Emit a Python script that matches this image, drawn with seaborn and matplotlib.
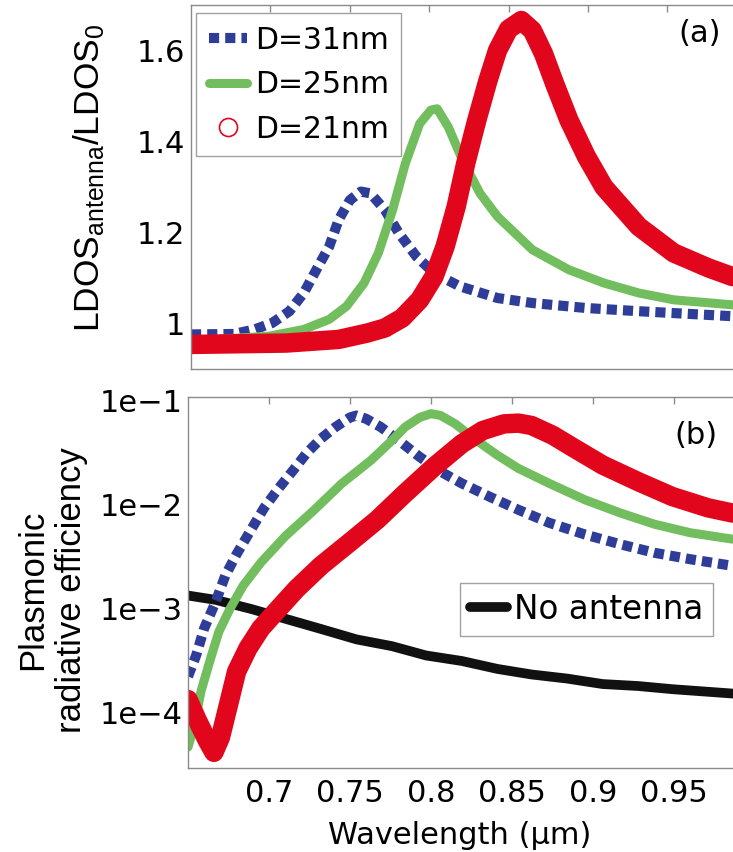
import numpy as np
import pandas as pd
import matplotlib
matplotlib.use("Agg")
import matplotlib.pyplot as plt
import seaborn as sns
from matplotlib.lines import Line2D
from matplotlib.ticker import FixedLocator, LogLocator, NullFormatter

# ---------------- data ----------------
# panel (a): LDOS_antenna / LDOS_0
wl_a31 = [0.65, 0.677, 0.69, 0.701, 0.712, 0.721, 0.73, 0.737, 0.743, 0.75, 0.757, 0.763, 0.772, 0.781, 0.792, 0.803, 0.819, 0.843, 0.865, 0.899, 0.932, 0.991]
ldos_31 = [0.976, 0.977, 0.987, 1.001, 1.027, 1.067, 1.125, 1.169, 1.228, 1.271, 1.29, 1.286, 1.25, 1.198, 1.147, 1.111, 1.082, 1.056, 1.045, 1.034, 1.027, 1.016]

wl_a25 = [0.65, 0.699, 0.721, 0.737, 0.748, 0.759, 0.768, 0.777, 0.785, 0.794, 0.801, 0.805, 0.812, 0.821, 0.832, 0.843, 0.865, 0.888, 0.91, 0.932, 0.954, 0.991]
ldos_25 = [0.962, 0.972, 0.987, 1.009, 1.038, 1.089, 1.155, 1.25, 1.352, 1.439, 1.469, 1.472, 1.432, 1.359, 1.286, 1.235, 1.162, 1.118, 1.089, 1.067, 1.052, 1.041]

wl_a21 = [0.65, 0.71, 0.743, 0.761, 0.772, 0.783, 0.794, 0.803, 0.81, 0.817, 0.823, 0.83, 0.837, 0.843, 0.85, 0.858, 0.865, 0.872, 0.879, 0.888, 0.899, 0.91, 0.932, 0.954, 0.976, 0.991]
ldos_21 = [0.954, 0.957, 0.965, 0.979, 0.99, 1.012, 1.052, 1.103, 1.169, 1.257, 1.352, 1.447, 1.534, 1.6, 1.647, 1.666, 1.644, 1.593, 1.527, 1.447, 1.367, 1.30, 1.213, 1.155, 1.122, 1.103]

# panel (b): plasmonic radiative efficiency
wl_b31 = [0.650, 0.655, 0.660, 0.667, 0.673, 0.680, 0.689, 0.697, 0.706, 0.715, 0.723, 0.732, 0.741, 0.750, 0.754, 0.760, 0.769, 0.780, 0.793, 0.806, 0.819, 0.836, 0.854, 0.873, 0.895, 0.917, 0.938, 0.960, 0.986]
eff_31 = [2.2e-4, 3.5e-4, 6.4e-4, 1.14e-3, 2.05e-3, 3.3e-3, 5.7e-3, 9.2e-3, 1.42e-2, 2.12e-2, 3.06e-2, 4.25e-2, 5.5e-2, 6.8e-2, 7.1e-2, 6.6e-2, 5.5e-2, 4.1e-2, 2.84e-2, 2.05e-2, 1.58e-2, 1.18e-2, 8.8e-3, 6.6e-3, 5.1e-3, 4.1e-3, 3.4e-3, 2.95e-3, 2.55e-3]

wl_b25 = [0.650, 0.654, 0.658, 0.664, 0.669, 0.676, 0.684, 0.695, 0.710, 0.728, 0.745, 0.763, 0.776, 0.784, 0.793, 0.800, 0.806, 0.815, 0.828, 0.841, 0.854, 0.873, 0.895, 0.917, 0.938, 0.960, 0.986]
eff_25 = [4.6e-5, 7.6e-5, 1.58e-4, 3.3e-4, 5.9e-4, 9.9e-4, 1.64e-3, 2.74e-3, 4.9e-3, 8.8e-3, 1.58e-2, 2.64e-2, 4.1e-2, 5.5e-2, 6.8e-2, 7.4e-2, 7.1e-2, 5.9e-2, 4.1e-2, 2.95e-2, 2.2e-2, 1.58e-2, 1.1e-2, 8.2e-3, 6.4e-3, 5.3e-3, 4.6e-3]

wl_b21 = [0.650, 0.656, 0.662, 0.666, 0.670, 0.675, 0.680, 0.687, 0.695, 0.706, 0.717, 0.732, 0.750, 0.767, 0.784, 0.802, 0.819, 0.832, 0.845, 0.854, 0.862, 0.875, 0.889, 0.906, 0.928, 0.949, 0.971, 0.986]
eff_21 = [1.32e-4, 8.2e-5, 5.3e-5, 4.1e-5, 5.7e-5, 1.18e-4, 2.45e-4, 4.1e-4, 6.4e-4, 9.9e-4, 1.53e-3, 2.55e-3, 4.3e-3, 7.1e-3, 1.27e-2, 2.29e-2, 3.8e-2, 5.1e-2, 5.9e-2, 6.0e-2, 5.7e-2, 4.6e-2, 3.4e-2, 2.37e-2, 1.64e-2, 1.18e-2, 9.2e-3, 8.2e-3]

wl_b0 = [0.65, 0.667, 0.689, 0.710, 0.732, 0.754, 0.776, 0.797, 0.819, 0.841, 0.862, 0.884, 0.906, 0.928, 0.949, 0.988]
eff_0 = [1.32e-3, 1.2e-3, 9.8e-4, 7.9e-4, 6.3e-4, 5.0e-4, 4.3e-4, 3.5e-4, 3.1e-4, 2.6e-4, 2.3e-4, 2.1e-4, 1.86e-4, 1.78e-4, 1.66e-4, 1.5e-4]

labels = ["D=31nm", "D=25nm", "D=21nm"]
label_none = "No antenna"
ytick_a = [1.0, 1.2, 1.4, 1.6]
ytick_a_labels = ["1", "1.2", "1.4", "1.6"]
ytick_b = [1e-4, 1e-3, 1e-2, 1e-1]
ytick_b_labels = ["1e\u22124", "1e\u22123", "1e\u22122", "1e\u22121"]
xticks = [0.7, 0.75, 0.8, 0.85, 0.9, 0.95]
xtick_labels = ["0.7", "0.75", "0.8", "0.85", "0.9", "0.95"]

# ---------------- style ----------------
sns.set_theme(style="white")
plt.rcParams["font.family"] = ["DejaVu Sans"]
plt.rcParams["text.color"] = "black"
plt.rcParams["axes.labelcolor"] = "black"
plt.rcParams["legend.labelcolor"] = "black"
plt.rcParams["mathtext.fontset"] = "custom"
plt.rcParams["mathtext.rm"] = "Liberation Sans"
plt.rcParams["mathtext.it"] = "Liberation Sans"

BLUE = "#2E3D98"
GREEN = "#72BE5E"
RED = "#E2061C"
BLACK = "#111111"
SPINE = "#8a8a8a"

W, H = 733, 852
fig = plt.figure(figsize=(W / 100, H / 100), dpi=100)
fig.patch.set_facecolor("white")


def rect(l, t, r, b):
    return [l / W, 1 - b / H, (r - l) / W, (b - t) / H]


ax_a = fig.add_axes(rect(191, 5, 736, 369))
ax_b = fig.add_axes(rect(188, 397, 736, 768))

dot_ls = (0, (1.0, 0.6))
LW_DOT = 7.3
LW_GREEN = 6.5
LW_RED = 14.0
LW_BLACK = 7.0

# panel (a)
sns.lineplot(x=wl_a31, y=ldos_31, ax=ax_a, color=BLUE, lw=LW_DOT, linestyle=dot_ls,
             estimator=None, dash_capstyle="butt")
sns.lineplot(x=wl_a25, y=ldos_25, ax=ax_a, color=GREEN, lw=LW_GREEN, estimator=None,
             solid_joinstyle="round")
sns.lineplot(x=wl_a21, y=ldos_21, ax=ax_a, color=RED, lw=LW_RED, estimator=None,
             solid_capstyle="round", solid_joinstyle="round")

# panel (b)
sns.lineplot(x=wl_b0, y=eff_0, ax=ax_b, color=BLACK, lw=LW_BLACK, estimator=None)
sns.lineplot(x=wl_b31, y=eff_31, ax=ax_b, color=BLUE, lw=LW_DOT, linestyle=dot_ls,
             estimator=None, dash_capstyle="butt")
sns.lineplot(x=wl_b25, y=eff_25, ax=ax_b, color=GREEN, lw=LW_GREEN, estimator=None,
             solid_joinstyle="round")
sns.lineplot(x=wl_b21, y=eff_21, ax=ax_b, color=RED, lw=LW_RED, estimator=None,
             solid_capstyle="round", solid_joinstyle="round")

TICKFS = 22
for ax in (ax_a, ax_b):
    for s in ax.spines.values():
        s.set_color(SPINE)
        s.set_linewidth(1.0)
    ax.tick_params(axis="both", which="both", direction="in", colors=SPINE,
                   labelcolor="black", labelsize=TICKFS, top=True, right=False,
                   length=5, width=1.0)
    ax.tick_params(axis="y", pad=4)
    ax.set_xticks(xticks)

ax_a.set_xlim(0.65, 0.65 + 545 / 1588)
ax_a.set_ylim(0.9, 1.7)
ax_a.set_yticks(ytick_a)
ax_a.set_yticklabels(ytick_a_labels)
ax_a.set_xticklabels([])
ax_a.set_xlabel("")

ax_b.set_xlim(0.65, 0.65 + 548 / 1620)
ax_b.set_yscale("log")
ax_b.set_ylim(2.9e-5, 1.07e-1)
ax_b.yaxis.set_major_locator(FixedLocator(ytick_b))
ax_b.set_yticklabels(ytick_b_labels)
ax_b.yaxis.set_minor_locator(LogLocator(base=10, subs=np.arange(2, 10)))
ax_b.yaxis.set_minor_formatter(NullFormatter())
ax_b.tick_params(axis="y", which="minor", length=3)
ax_b.tick_params(axis="x", pad=8)
ax_b.set_xticklabels(xtick_labels)

# labels
ax_a.set_ylabel("")
ax_b.set_ylabel("")
fig.text(89 / W, 1 - 178 / H, r"LDOS$_{\mathrm{antenna}}$/LDOS$_0$", rotation=90,
         ha="center", va="center", fontsize=25.5, family="Liberation Sans",
         color="black")
fig.text(52 / W, 1 - 590 / H, "Plasmonic\nradiative efficiency", rotation=90,
         ha="center", va="center", fontsize=25, linespacing=1.22,
         family="Liberation Sans", color="black")
fig.text(460 / W, 1 - 835 / H, "Wavelength (\u00b5m)", ha="center", va="center",
         fontsize=22, color="black")
fig.text(700 / W, 1 - 33 / H, "(a)", ha="center", va="center", fontsize=22,
         color="black")
fig.text(696 / W, 1 - 435 / H, "(b)", ha="center", va="center", fontsize=22,
         color="black")

# legends
handles_a = [
    Line2D([], [], color=BLUE, lw=LW_DOT, linestyle=dot_ls, dash_capstyle="butt"),
    Line2D([], [], color=GREEN, lw=LW_GREEN),
    Line2D([], [], color=RED, lw=0, marker="o", markersize=13, markerfacecolor="none",
           markeredgecolor=RED, markeredgewidth=1.2),
]
leg_a = ax_a.legend(handles_a, labels, loc="upper left",
                    bbox_to_anchor=((196 - 191) / 545, (369 - 13) / 364),
                    borderaxespad=0, fontsize=21.5, frameon=True, fancybox=False,
                    edgecolor=SPINE, handlelength=1.3, handletextpad=0.25,
                    labelspacing=0.52, borderpad=0.42, labelcolor="black")
leg_a.get_frame().set_linewidth(1.0)

handles_b = [Line2D([], [], color=BLACK, lw=LW_BLACK)]
leg_b = ax_b.legend(handles_b, [label_none], loc="upper left",
                    bbox_to_anchor=((460 - 188) / 548, (768 - 583) / 371),
                    borderaxespad=0, fontsize=23.5, frameon=True, fancybox=False,
                    edgecolor=SPINE, handlelength=1.15, handletextpad=0.2,
                    borderpad=0.3, labelcolor="black")
leg_b.get_frame().set_linewidth(1.0)

fig.savefig("out.png", dpi=100, facecolor="white")
